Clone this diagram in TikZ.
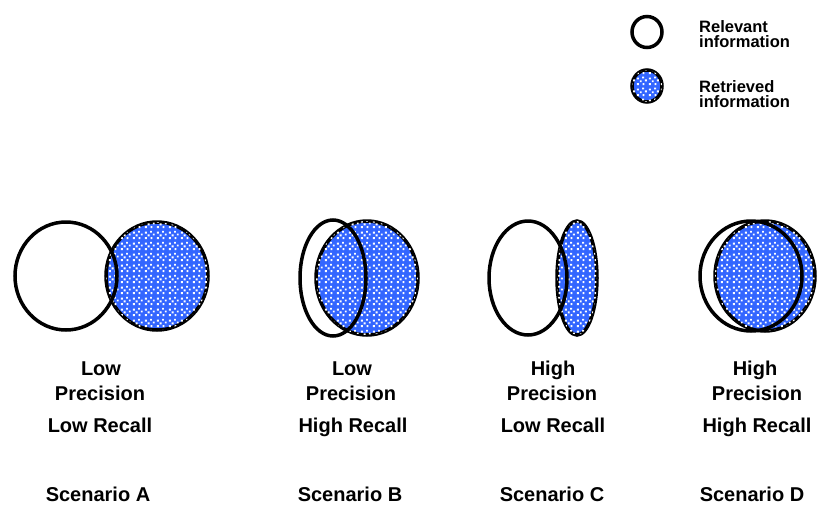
\documentclass[tikz,border=0pt]{standalone}
\usepackage{fontspec}
\setmainfont{Liberation Sans}
\definecolor{retblue}{RGB}{51, 102, 255}
\usepackage{tikz}
\usetikzlibrary{shapes.geometric, patterns, positioning}
\pgfdeclarepatternformonly{whitedots}{\pgfpointorigin}{\pgfpoint{12pt}{11pt}}{\pgfpoint{12pt}{11pt}}{%
  \pgfpathrectangle{\pgfpoint{1pt}{1pt}}{\pgfpoint{2pt}{2pt}}%
  \pgfpathrectangle{\pgfpoint{7pt}{1pt}}{\pgfpoint{2pt}{2pt}}%
  \pgfpathrectangle{\pgfpoint{4pt}{4pt}}{\pgfpoint{2pt}{2pt}}%
  \pgfpathrectangle{\pgfpoint{9.5pt}{5pt}}{\pgfpoint{2pt}{2pt}}%
  \pgfpathrectangle{\pgfpoint{1pt}{7pt}}{\pgfpoint{2pt}{2pt}}%
  \pgfpathrectangle{\pgfpoint{6.5pt}{8pt}}{\pgfpoint{2pt}{2pt}}%
  \pgfusepath{fill}}
\tikzset{
  set/.style={ellipse, draw=black, line width=3.5pt, inner sep=0pt},
  relevant/.style={set},
  retrieved/.style={set, fill=retblue, postaction={pattern=whitedots, pattern color=white}},
  lbl/.style={font=\bfseries\fontsize{20}{22}\selectfont, anchor=base, inner sep=0pt,
    text height=14pt, text depth=0pt},
  key/.style={font=\bfseries\fontsize{16.5}{18}\selectfont, anchor=base west, inner sep=0pt,
    text height=12pt, text depth=0pt}
}

\begin{document}
\begin{tikzpicture}[x=1pt, y=-1pt]
  \useasboundingbox (0,0) rectangle (817,504);

  % legend
  \node[relevant, minimum width=30pt, minimum height=31pt] (keyrel) at (647,32) {};
  \node[retrieved, minimum width=30pt, minimum height=32pt] (keyret) at (647,86) {};
  \node[key] (keyreltxt) at (699,32) {Relevant};
  \node[key] (keyreltxtb) at (699,47.5) {information};
  \node[key] (keyrettxt) at (699,92) {Retrieved};
  \node[key] (keyrettxtb) at (699,107.5) {information};

  % scenario A
  \node[retrieved, minimum width=102pt, minimum height=108pt] (retA) at (157,276) {};
  \node[relevant, minimum width=102pt, minimum height=108pt] (relA) at (66,276) {};
  % scenario B
  \node[retrieved, minimum width=102pt, minimum height=114pt] (retB) at (367,278) {};
  \node[relevant, minimum width=66pt, minimum height=116pt] (relB) at (333,278) {};
  % scenario C
  \node[retrieved, minimum width=40pt, minimum height=114pt] (retC) at (577,278) {};
  \node[relevant, minimum width=78pt, minimum height=114pt] (relC) at (528,278) {};
  % scenario D
  \node[retrieved, minimum width=100pt, minimum height=110pt] (retD) at (765,276) {};
  \node[relevant, minimum width=102pt, minimum height=110pt] (relD) at (751,276) {};

  % captions
  \node[lbl] (precA) at (101,375) {Low};
  \node[lbl] (precAb) at (100,400) {Precision};
  \node[lbl] (recA) at (100,432) {Low Recall};
  \node[lbl] (scenA) at (98,501) {Scenario A};

  \node[lbl] (precB) at (352,375) {Low};
  \node[lbl] (precBb) at (351,400) {Precision};
  \node[lbl] (recB) at (353,432) {High Recall};
  \node[lbl] (scenB) at (350,501) {Scenario B};

  \node[lbl] (precC) at (553,375) {High};
  \node[lbl] (precCb) at (552,400) {Precision};
  \node[lbl] (recC) at (553,432) {Low Recall};
  \node[lbl] (scenC) at (552,501) {Scenario C};

  \node[lbl] (precD) at (755,375) {High};
  \node[lbl] (precDb) at (757,400) {Precision};
  \node[lbl] (recD) at (757,432) {High Recall};
  \node[lbl] (scenD) at (752,501) {Scenario D};
\end{tikzpicture}
\end{document}
